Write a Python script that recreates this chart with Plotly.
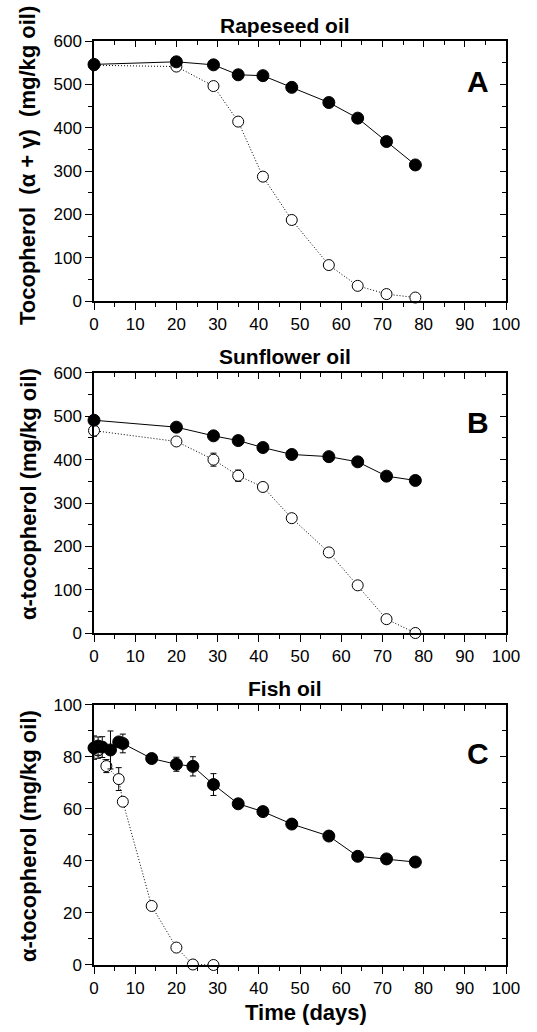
import plotly.graph_objects as go

# Storage days
days = [0, 20, 29, 35, 41, 48, 57, 64, 71, 78]

# Rapeseed oil, tocopherol (alpha + gamma), mg/kg oil
rape_filled = [546, 552, 545, 522, 520, 493, 458, 422, 368, 314]
rape_filled_err = [4, 4, 4, 5, 4, 4, 5, 4, 5, 5]
rape_open = [544, 541, 496, 414, 287, 187, 83, 35, 16, 8]
rape_open_err = [4, 5, 9, 7, 7, 8, 6, 5, 5, 4]

# Sunflower oil, alpha-tocopherol, mg/kg oil
sun_filled = [491, 475, 455, 444, 428, 412, 407, 395, 362, 352]
sun_filled_err = [5, 5, 9, 5, 6, 5, 5, 5, 5, 4]
sun_open = [467, 442, 400, 363, 337, 265, 186, 110, 32, 0]
sun_open_err = [13, 8, 15, 13, 7, 7, 5, 7, 5, 0]

# Fish oil, alpha-tocopherol, mg/kg oil
fish_filled_days = [0, 1, 2, 4, 6, 7, 14, 20, 24, 29, 35, 41, 48, 57, 64, 71, 78]
fish_filled = [83.5, 84.2, 83.8, 82.7, 85.8, 85.2, 79.4, 77.2, 76.4, 69.4,
               62.0, 59.0, 54.2, 49.6, 41.8, 40.8, 39.6]
fish_filled_err = [1.5, 3.5, 4.0, 7.3, 1.0, 3.6, 1.0, 2.7, 3.7, 4.2,
                   1.0, 1.0, 1.0, 1.0, 1.0, 1.5, 1.0]
fish_open_days = [0, 1, 3, 6, 7, 14, 20, 24, 29]
fish_open = [83.6, 82.5, 76.5, 71.5, 62.8, 22.7, 6.7, 0.2, 0.0]
fish_open_err = [4.5, 3.0, 2.5, 4.4, 1.0, 1.0, 1.0, 0.0, 0.0]

panels = [
    dict(title="Rapeseed oil", letter="A",
         ytitle="Tocopherol\u00a0\u00a0(\u03b1 + \u03b3)\u00a0\u00a0(mg/kg oil)",
         ymax=600, ydtick=100, yminor=50,
         open=(days, rape_open, rape_open_err),
         filled=(days, rape_filled, rape_filled_err),
         domain=[0.7186, 1.0], ytitle_px=166, letter_frac=0.846),
    dict(title="Sunflower oil", letter="B",
         ytitle="\u03b1-tocopherol (mg/kg oil)",
         ymax=600, ydtick=100, yminor=50,
         open=(days, sun_open, sun_open_err),
         filled=(days, sun_filled, sun_filled_err),
         domain=[0.3593, 0.6407], ytitle_px=494, letter_frac=0.81),
    dict(title="Fish oil", letter="C",
         ytitle="\u03b1-tocopherol (mg/kg oil)",
         ymax=100, ydtick=20, yminor=10,
         open=(fish_open_days, fish_open, fish_open_err),
         filled=(fish_filled_days, fish_filled, fish_filled_err),
         domain=[0.0, 0.2814], ytitle_px=836, letter_frac=0.815),
]

W, H = 537, 1032
ML, MR, MT, MB = 94, 31, 41, 67
plot_w = W - ML - MR
plot_h = H - MT - MB

FONT = "Liberation Sans, Arial, sans-serif"
tickfont = dict(family=FONT, size=17, color="black")

fig = go.Figure()
layout = dict(
    width=W, height=H,
    margin=dict(l=ML, r=MR, t=MT, b=MB),
    paper_bgcolor="white", plot_bgcolor="white",
    showlegend=False,
    font=dict(family=FONT, color="black"),
)
annotations = []

for i, p in enumerate(panels, start=1):
    xs = "" if i == 1 else str(i)
    xref, yref = "x" + xs, "y" + xs
    top_ref, right_ref = "x" + str(i + 3), "y" + str(i + 3)

    ox, oy, oe = p["open"]
    fig.add_trace(go.Scatter(
        x=ox, y=oy, xaxis=xref, yaxis=yref, mode="lines+markers",
        line=dict(color="black", width=1, dash="1px,2px"),
        marker=dict(symbol="circle", size=11, color="white",
                    line=dict(color="black", width=1)),
        error_y=dict(type="data", array=oe, color="black", thickness=1, width=3),
        cliponaxis=False,
    ))
    fx, fy, fe = p["filled"]
    fig.add_trace(go.Scatter(
        x=fx, y=fy, xaxis=xref, yaxis=yref, mode="lines+markers",
        line=dict(color="black", width=1),
        marker=dict(symbol="circle", size=12, color="black",
                    line=dict(color="black", width=1)),
        error_y=dict(type="data", array=fe, color="black", thickness=1, width=3),
        cliponaxis=False,
    ))
    # empty traces so the frame axes (top/right) get their own subplots
    fig.add_trace(go.Scatter(x=[], y=[], xaxis=top_ref, yaxis=yref,
                             hoverinfo="skip"))
    fig.add_trace(go.Scatter(x=[], y=[], xaxis=xref, yaxis=right_ref,
                             hoverinfo="skip"))

    common = dict(showgrid=False, zeroline=False, showline=True,
                  linecolor="black", linewidth=1.5)
    layout["xaxis" + xs] = dict(
        **common, range=[0, 100], dtick=10, tick0=0, mirror=True,
        ticks="outside", ticklen=7, tickwidth=1.2, tickcolor="black",
        minor=dict(ticks="outside", dtick=5, ticklen=4, tickwidth=1.2,
                   tickcolor="black", showgrid=False),
        tickfont=tickfont, anchor=yref,
    )
    layout["yaxis" + xs] = dict(
        **common, range=[0, p["ymax"]], dtick=p["ydtick"], tick0=0, mirror=True,
        ticks="outside", ticklen=7, tickwidth=1.2, tickcolor="black",
        minor=dict(ticks="outside", dtick=p["yminor"], ticklen=4, tickwidth=1.2,
                   tickcolor="black", showgrid=False),
        tickfont=tickfont, domain=p["domain"], anchor=xref,
    )
    # Inward ticks on the top and right frame edges
    layout["xaxis" + str(i + 3)] = dict(
        overlaying=xref, side="top", anchor=yref, range=[0, 100],
        dtick=10, tick0=0, showgrid=False, zeroline=False, showline=False,
        showticklabels=False, ticks="inside", ticklen=6, tickwidth=1.2,
        tickcolor="black",
        minor=dict(ticks="inside", dtick=5, ticklen=4, tickwidth=1.2,
                   tickcolor="black", showgrid=False),
    )
    layout["yaxis" + str(i + 3)] = dict(
        overlaying=yref, side="right", anchor=xref, range=[0, p["ymax"]],
        dtick=p["ydtick"], tick0=0, showgrid=False, zeroline=False,
        showline=False, showticklabels=False, ticks="inside", ticklen=6,
        tickwidth=1.2, tickcolor="black",
        minor=dict(ticks="inside", dtick=p["yminor"], ticklen=4, tickwidth=1.2,
                   tickcolor="black", showgrid=False),
    )

    d0, d1 = p["domain"]
    annotations.append(dict(
        text="<b>%s</b>" % p["title"], xref="paper", yref="paper",
        x=(285 - ML) / plot_w, y=d1, yshift=16, xanchor="center",
        yanchor="middle", showarrow=False,
        font=dict(family=FONT, size=21, color="black"),
    ))
    annotations.append(dict(
        text="<b>%s</b>" % p["letter"], xref="paper", yref="paper",
        x=(478 - ML) / plot_w, y=d0 + p["letter_frac"] * (d1 - d0),
        xanchor="center", yanchor="middle", showarrow=False,
        font=dict(family=FONT, size=30, color="black"),
    ))
    annotations.append(dict(
        text="<b>%s</b>" % p["ytitle"], xref="paper", yref="paper",
        x=(28 - ML) / plot_w, y=1 - (p["ytitle_px"] - MT) / plot_h,
        xanchor="center", yanchor="middle", textangle=-90, showarrow=False,
        font=dict(family=FONT, size=22, color="black"),
    ))

annotations.append(dict(
    text="<b>Time (days)</b>", xref="paper", yref="paper",
    x=(306 - ML) / plot_w, y=1 - (1012 - MT) / plot_h,
    xanchor="center", yanchor="middle", showarrow=False,
    font=dict(family=FONT, size=22, color="black"),
))

layout["annotations"] = annotations
fig.update_layout(**layout)
fig.write_html("out.html")
